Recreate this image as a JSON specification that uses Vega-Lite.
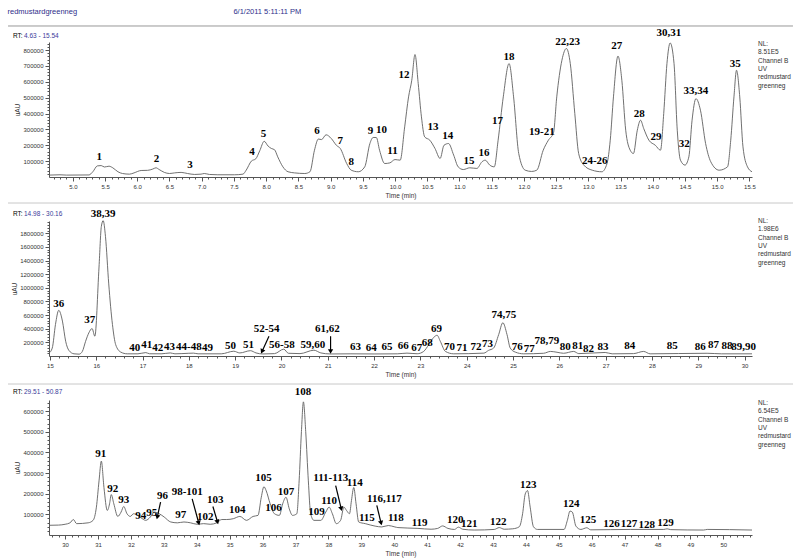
{
"$schema": "https://vega.github.io/schema/vega-lite/v6.json",
"background": "white",
"padding": {"left": 7, "top": 7, "right": 5, "bottom": 5},
"title": {"text": "redmustardgreenneg\u00a0\u00a0\u00a0\u00a0\u00a0\u00a0\u00a0\u00a0\u00a0\u00a0\u00a0\u00a0\u00a0\u00a0\u00a0\u00a0\u00a0\u00a0\u00a0\u00a0\u00a0\u00a0\u00a0\u00a0\u00a0\u00a0\u00a0\u00a0\u00a0\u00a0\u00a0\u00a0\u00a0\u00a0\u00a0\u00a0\u00a0\u00a0\u00a0\u00a0\u00a0\u00a0\u00a0\u00a0\u00a0\u00a0\u00a0\u00a0\u00a0\u00a0\u00a0\u00a0\u00a0\u00a0\u00a0\u00a0\u00a0\u00a0\u00a0\u00a0\u00a0\u00a0\u00a0\u00a0\u00a0\u00a0\u00a0\u00a0\u00a0\u00a0\u00a0\u00a0\u00a0\u00a0\u00a06/1/2011 5:11:11 PM", "anchor": "start", "frame": "bounds", "fontSize": 7.5, "font": "Liberation Sans", "fontWeight": "normal", "color": "#2e2e8a", "offset": 10},
"bounds": "flush",
"spacing": 44,
"datasets": {
"p1": [
{"t":4.63,"v":12000},{"t":4.8,"v":14000},{"t":4.9,"v":12000},{"t":5.25,"v":13000},{"t":5.31,"v":33000},{"t":5.38,"v":70000},{"t":5.44,"v":72000},{"t":5.49,"v":63000},{"t":5.56,"v":68000},{"t":5.62,"v":58000},{"t":5.7,"v":33000},{"t":5.77,"v":22000},{"t":5.88,"v":18000},{"t":5.95,"v":26000},{"t":6.06,"v":41000},{"t":6.16,"v":42000},{"t":6.24,"v":50000},{"t":6.29,"v":58000},{"t":6.34,"v":47000},{"t":6.42,"v":29000},{"t":6.5,"v":22000},{"t":6.58,"v":26000},{"t":6.68,"v":29000},{"t":6.78,"v":22000},{"t":6.89,"v":16000},{"t":6.99,"v":18000},{"t":7.04,"v":22000},{"t":7.12,"v":16000},{"t":7.25,"v":14000},{"t":7.51,"v":14000},{"t":7.64,"v":18000},{"t":7.69,"v":43000},{"t":7.77,"v":100000},{"t":7.84,"v":115000},{"t":7.9,"v":165000},{"t":7.97,"v":225000},{"t":8.03,"v":195000},{"t":8.08,"v":180000},{"t":8.13,"v":172000},{"t":8.18,"v":127000},{"t":8.26,"v":64000},{"t":8.34,"v":33000},{"t":8.44,"v":26000},{"t":8.6,"v":22000},{"t":8.68,"v":33000},{"t":8.75,"v":169000},{"t":8.81,"v":239000},{"t":8.86,"v":236000},{"t":8.93,"v":266000},{"t":9.01,"v":243000},{"t":9.09,"v":200000},{"t":9.15,"v":180000},{"t":9.25,"v":85000},{"t":9.32,"v":43000},{"t":9.43,"v":33000},{"t":9.53,"v":64000},{"t":9.61,"v":211000},{"t":9.66,"v":249000},{"t":9.71,"v":249000},{"t":9.76,"v":169000},{"t":9.84,"v":85000},{"t":9.92,"v":89000},{"t":10.0,"v":110000},{"t":10.08,"v":106000},{"t":10.15,"v":316000},{"t":10.21,"v":505000},{"t":10.26,"v":610000},{"t":10.31,"v":772000},{"t":10.36,"v":589000},{"t":10.41,"v":379000},{"t":10.46,"v":253000},{"t":10.54,"v":232000},{"t":10.62,"v":180000},{"t":10.7,"v":117000},{"t":10.76,"v":200000},{"t":10.83,"v":211000},{"t":10.91,"v":138000},{"t":10.98,"v":64000},{"t":11.06,"v":47000},{"t":11.16,"v":58000},{"t":11.27,"v":54000},{"t":11.35,"v":96000},{"t":11.4,"v":106000},{"t":11.47,"v":75000},{"t":11.54,"v":64000},{"t":11.6,"v":232000},{"t":11.68,"v":505000},{"t":11.77,"v":715000},{"t":11.84,"v":505000},{"t":11.92,"v":148000},{"t":12.02,"v":43000},{"t":12.12,"v":35000},{"t":12.2,"v":43000},{"t":12.3,"v":169000},{"t":12.38,"v":232000},{"t":12.46,"v":280000},{"t":12.51,"v":505000},{"t":12.59,"v":736000},{"t":12.66,"v":810000},{"t":12.72,"v":715000},{"t":12.79,"v":400000},{"t":12.85,"v":148000},{"t":12.93,"v":75000},{"t":13.06,"v":43000},{"t":13.21,"v":33000},{"t":13.29,"v":85000},{"t":13.34,"v":232000},{"t":13.39,"v":505000},{"t":13.46,"v":762000},{"t":13.52,"v":610000},{"t":13.58,"v":295000},{"t":13.65,"v":169000},{"t":13.7,"v":148000},{"t":13.76,"v":295000},{"t":13.81,"v":358000},{"t":13.86,"v":305000},{"t":13.94,"v":232000},{"t":14.04,"v":200000},{"t":14.12,"v":169000},{"t":14.17,"v":400000},{"t":14.22,"v":715000},{"t":14.27,"v":845000},{"t":14.33,"v":715000},{"t":14.38,"v":295000},{"t":14.43,"v":106000},{"t":14.5,"v":75000},{"t":14.56,"v":127000},{"t":14.61,"v":358000},{"t":14.67,"v":494000},{"t":14.74,"v":421000},{"t":14.82,"v":211000},{"t":14.9,"v":96000},{"t":15.03,"v":43000},{"t":15.16,"v":64000},{"t":15.21,"v":232000},{"t":15.26,"v":505000},{"t":15.3,"v":673000},{"t":15.35,"v":505000},{"t":15.4,"v":190000},{"t":15.47,"v":64000},{"t":15.54,"v":33000}
],
"p2": [
{"t":14.98,"v":42000},{"t":15.05,"v":116000},{"t":15.12,"v":463000},{"t":15.19,"v":670000},{"t":15.27,"v":512000},{"t":15.34,"v":215000},{"t":15.41,"v":82000},{"t":15.52,"v":32000},{"t":15.63,"v":27000},{"t":15.7,"v":67000},{"t":15.77,"v":215000},{"t":15.84,"v":339000},{"t":15.91,"v":403000},{"t":15.97,"v":290000},{"t":16.06,"v":1305000},{"t":16.11,"v":1899000},{"t":16.15,"v":1985000},{"t":16.2,"v":1750000},{"t":16.27,"v":1057000},{"t":16.35,"v":463000},{"t":16.42,"v":166000},{"t":16.53,"v":57000},{"t":16.67,"v":32000},{"t":16.9,"v":32000},{"t":17.07,"v":50000},{"t":17.15,"v":33000},{"t":17.4,"v":32000},{"t":17.6,"v":45000},{"t":17.7,"v":32000},{"t":18.0,"v":40000},{"t":18.1,"v":42000},{"t":18.2,"v":32000},{"t":18.7,"v":32000},{"t":18.97,"v":70000},{"t":19.1,"v":45000},{"t":19.33,"v":78000},{"t":19.45,"v":45000},{"t":19.6,"v":30000},{"t":19.85,"v":35000},{"t":20.05,"v":100000},{"t":20.15,"v":40000},{"t":20.4,"v":35000},{"t":20.7,"v":85000},{"t":20.85,"v":45000},{"t":21.05,"v":30000},{"t":21.5,"v":32000},{"t":22.0,"v":30000},{"t":22.5,"v":32000},{"t":22.71,"v":42000},{"t":22.93,"v":33000},{"t":23.07,"v":67000},{"t":23.18,"v":166000},{"t":23.29,"v":275000},{"t":23.36,"v":304000},{"t":23.43,"v":215000},{"t":23.54,"v":67000},{"t":23.72,"v":32000},{"t":24.37,"v":42000},{"t":24.47,"v":82000},{"t":24.58,"v":116000},{"t":24.69,"v":314000},{"t":24.78,"v":488000},{"t":24.87,"v":314000},{"t":24.94,"v":116000},{"t":25.05,"v":57000},{"t":25.23,"v":32000},{"t":25.66,"v":40000},{"t":25.81,"v":67000},{"t":25.95,"v":55000},{"t":26.09,"v":40000},{"t":26.31,"v":67000},{"t":26.42,"v":35000},{"t":26.99,"v":52000},{"t":27.14,"v":32000},{"t":27.6,"v":35000},{"t":27.82,"v":67000},{"t":27.96,"v":32000},{"t":29.19,"v":40000},{"t":29.5,"v":32000},{"t":30.16,"v":32000}
],
"p3": [
{"t":29.51,"v":47000},{"t":29.8,"v":48000},{"t":30.0,"v":52000},{"t":30.15,"v":59000},{"t":30.25,"v":75000},{"t":30.35,"v":55000},{"t":30.7,"v":59000},{"t":30.85,"v":71000},{"t":30.95,"v":135000},{"t":31.03,"v":262000},{"t":31.1,"v":358000},{"t":31.18,"v":230000},{"t":31.28,"v":119000},{"t":31.35,"v":151000},{"t":31.4,"v":196000},{"t":31.48,"v":151000},{"t":31.6,"v":90000},{"t":31.7,"v":111000},{"t":31.78,"v":138000},{"t":31.88,"v":103000},{"t":31.98,"v":90000},{"t":32.08,"v":103000},{"t":32.2,"v":95000},{"t":32.3,"v":84000},{"t":32.45,"v":71000},{"t":32.59,"v":87000},{"t":32.71,"v":111000},{"t":32.86,"v":103000},{"t":33.01,"v":87000},{"t":33.21,"v":63000},{"t":33.41,"v":59000},{"t":33.61,"v":63000},{"t":33.81,"v":59000},{"t":34.01,"v":52000},{"t":34.21,"v":55000},{"t":34.41,"v":52000},{"t":34.61,"v":59000},{"t":34.76,"v":75000},{"t":34.91,"v":75000},{"t":35.11,"v":79000},{"t":35.31,"v":90000},{"t":35.51,"v":71000},{"t":35.71,"v":90000},{"t":35.86,"v":95000},{"t":35.96,"v":183000},{"t":36.04,"v":234000},{"t":36.11,"v":214000},{"t":36.23,"v":151000},{"t":36.36,"v":103000},{"t":36.51,"v":95000},{"t":36.61,"v":151000},{"t":36.71,"v":183000},{"t":36.81,"v":127000},{"t":36.91,"v":95000},{"t":37.04,"v":103000},{"t":37.11,"v":262000},{"t":37.18,"v":501000},{"t":37.24,"v":645000},{"t":37.31,"v":501000},{"t":37.39,"v":262000},{"t":37.46,"v":103000},{"t":37.56,"v":71000},{"t":37.77,"v":71000},{"t":37.92,"v":111000},{"t":38.02,"v":135000},{"t":38.12,"v":103000},{"t":38.24,"v":55000},{"t":38.37,"v":71000},{"t":38.47,"v":135000},{"t":38.55,"v":119000},{"t":38.64,"v":103000},{"t":38.7,"v":167000},{"t":38.77,"v":230000},{"t":38.84,"v":151000},{"t":38.92,"v":63000},{"t":39.12,"v":55000},{"t":39.42,"v":43000},{"t":39.62,"v":39000},{"t":39.82,"v":46000},{"t":40.02,"v":39000},{"t":40.11,"v":36000},{"t":40.72,"v":32000},{"t":41.12,"v":28000},{"t":41.32,"v":32000},{"t":41.47,"v":44000},{"t":41.63,"v":32000},{"t":41.83,"v":27000},{"t":41.95,"v":38000},{"t":42.08,"v":28000},{"t":42.43,"v":24000},{"t":43.04,"v":27000},{"t":43.19,"v":36000},{"t":43.34,"v":28000},{"t":43.6,"v":30000},{"t":43.8,"v":40000},{"t":43.9,"v":103000},{"t":43.98,"v":199000},{"t":44.05,"v":215000},{"t":44.13,"v":135000},{"t":44.23,"v":40000},{"t":44.35,"v":27000},{"t":45.16,"v":27000},{"t":45.26,"v":71000},{"t":45.34,"v":116000},{"t":45.41,"v":111000},{"t":45.52,"v":43000},{"t":45.67,"v":27000},{"t":45.85,"v":35000},{"t":45.97,"v":25000},{"t":47.18,"v":27000},{"t":48.19,"v":27000},{"t":48.29,"v":30000},{"t":48.4,"v":26000},{"t":49.4,"v":24000},{"t":49.51,"v":27000},{"t":50.87,"v":24000}
],
"l1": [
{"t":5.41,"v":127000,"label":"1"},{"t":6.3,"v":111000,"label":"2"},{"t":6.82,"v":75000,"label":"3"},{"t":7.78,"v":155000,"label":"4"},{"t":7.96,"v":270000,"label":"5"},{"t":8.79,"v":291000,"label":"6"},{"t":9.15,"v":226000,"label":"7"},{"t":9.32,"v":92000,"label":"8"},{"t":9.62,"v":291000,"label":"9"},{"t":9.79,"v":295000,"label":"10"},{"t":9.96,"v":165000,"label":"11"},{"t":10.14,"v":642000,"label":"12"},{"t":10.59,"v":313000,"label":"13"},{"t":10.82,"v":258000,"label":"14"},{"t":11.15,"v":100000,"label":"15"},{"t":11.38,"v":149000,"label":"16"},{"t":11.59,"v":352000,"label":"17"},{"t":11.77,"v":758000,"label":"18"},{"t":12.28,"v":285000,"label":"19-21"},{"t":12.68,"v":852000,"label":"22,23"},{"t":13.1,"v":102000,"label":"24-26"},{"t":13.44,"v":825000,"label":"27"},{"t":13.79,"v":395000,"label":"28"},{"t":14.05,"v":253000,"label":"29"},{"t":14.25,"v":909000,"label":"30,31"},{"t":14.49,"v":205000,"label":"32"},{"t":14.67,"v":541000,"label":"33,34"},{"t":15.28,"v":710000,"label":"35"}
],
"l2": [
{"t":15.19,"v":760000,"label":"36"},{"t":15.86,"v":522000,"label":"37"},{"t":16.15,"v":2087000,"label":"38,39"},{"t":16.83,"v":116000,"label":"40"},{"t":17.09,"v":156000,"label":"41"},{"t":17.33,"v":116000,"label":"42"},{"t":17.58,"v":131000,"label":"43"},{"t":18.0,"v":131000,"label":"44-48"},{"t":18.4,"v":116000,"label":"49"},{"t":18.9,"v":151000,"label":"50"},{"t":19.29,"v":166000,"label":"51"},{"t":19.68,"v":389000,"label":"52-54"},{"t":20.01,"v":156000,"label":"56-58"},{"t":20.68,"v":156000,"label":"59,60"},{"t":20.99,"v":389000,"label":"61,62"},{"t":21.6,"v":131000,"label":"63"},{"t":21.94,"v":116000,"label":"64"},{"t":22.28,"v":126000,"label":"65"},{"t":22.63,"v":151000,"label":"66"},{"t":22.92,"v":116000,"label":"67"},{"t":23.15,"v":196000,"label":"68"},{"t":23.35,"v":389000,"label":"69"},{"t":23.63,"v":131000,"label":"70"},{"t":23.9,"v":116000,"label":"71"},{"t":24.2,"v":131000,"label":"72"},{"t":24.45,"v":176000,"label":"73"},{"t":24.8,"v":601000,"label":"74,75"},{"t":25.09,"v":136000,"label":"76"},{"t":25.35,"v":106000,"label":"77"},{"t":25.73,"v":215000,"label":"78,79"},{"t":26.13,"v":126000,"label":"80"},{"t":26.4,"v":151000,"label":"81"},{"t":26.63,"v":106000,"label":"82"},{"t":26.94,"v":131000,"label":"83"},{"t":27.52,"v":151000,"label":"84"},{"t":28.44,"v":141000,"label":"85"},{"t":29.04,"v":126000,"label":"86"},{"t":29.33,"v":156000,"label":"87"},{"t":29.62,"v":151000,"label":"88"},{"t":29.98,"v":131000,"label":"89,90"}
],
"l3": [
{"t":31.08,"v":390000,"label":"91"},{"t":31.45,"v":223000,"label":"92"},{"t":31.78,"v":170000,"label":"93"},{"t":32.3,"v":90000,"label":"94"},{"t":32.63,"v":106000,"label":"95"},{"t":32.96,"v":191000,"label":"96"},{"t":33.51,"v":95000,"label":"97"},{"t":33.71,"v":207000,"label":"98-101"},{"t":34.26,"v":87000,"label":"102"},{"t":34.56,"v":170000,"label":"103"},{"t":35.23,"v":122000,"label":"104"},{"t":36.03,"v":275000,"label":"105"},{"t":36.33,"v":130000,"label":"106"},{"t":36.71,"v":207000,"label":"107"},{"t":37.23,"v":692000,"label":"108"},{"t":37.64,"v":111000,"label":"109"},{"t":38.02,"v":164000,"label":"110"},{"t":38.07,"v":275000,"label":"111-113"},{"t":38.8,"v":254000,"label":"114"},{"t":39.17,"v":84000,"label":"115"},{"t":39.7,"v":175000,"label":"116,117"},{"t":40.05,"v":84000,"label":"118"},{"t":40.77,"v":58000,"label":"119"},{"t":41.85,"v":71000,"label":"120"},{"t":42.28,"v":52000,"label":"121"},{"t":43.16,"v":63000,"label":"122"},{"t":44.07,"v":243000,"label":"123"},{"t":45.38,"v":151000,"label":"124"},{"t":45.89,"v":71000,"label":"125"},{"t":46.6,"v":55000,"label":"126"},{"t":47.13,"v":51000,"label":"127"},{"t":47.67,"v":47000,"label":"128"},{"t":48.24,"v":58000,"label":"129"}
],
"a2": [
{"t":19.73,"v":290000,"t2":19.58,"v2":67000},{"t":21.06,"v":290000,"t2":21.06,"v2":67000}
],
"a3": [
{"t":32.9,"v":159000,"t2":32.8,"v2":87000},{"t":33.86,"v":175000,"t2":34.06,"v2":58000},{"t":34.49,"v":138000,"t2":34.63,"v2":63000},{"t":38.22,"v":239000,"t2":38.39,"v2":127000},{"t":39.47,"v":143000,"t2":39.6,"v2":58000}
]
},
"vconcat": [
{
"width": 703, "height": 135,
"layer": [
{"data": {"name": "p1"}, "mark": {"type": "line", "color": "#606060", "strokeWidth": 0.9, "interpolate": "monotone"},
 "encoding": {
  "x": {"field": "t", "type": "quantitative", "scale": {"domain": [4.63, 15.54], "nice": false, "zero": false},
   "axis": {"title": "Time (min)", "tickCount": 1000, "labelOverlap": false, "labelFlush": false, "values": [4.7,4.8,4.9,5,5.1,5.2,5.3,5.4,5.5,5.6,5.7,5.8,5.9,6,6.1,6.2,6.3,6.4,6.5,6.6,6.7,6.8,6.9,7,7.1,7.2,7.3,7.4,7.5,7.6,7.7,7.8,7.9,8,8.1,8.2,8.3,8.4,8.5,8.6,8.7,8.8,8.9,9,9.1,9.2,9.3,9.4,9.5,9.6,9.7,9.8,9.9,10,10.1,10.2,10.3,10.4,10.5,10.6,10.7,10.8,10.9,11,11.1,11.2,11.3,11.4,11.5,11.6,11.7,11.8,11.9,12,12.1,12.2,12.3,12.4,12.5,12.6,12.7,12.8,12.9,13,13.1,13.2,13.3,13.4,13.5,13.6,13.7,13.8,13.9,14,14.1,14.2,14.3,14.4,14.5,14.6,14.7,14.8,14.9,15,15.1,15.2,15.3,15.4,15.5],
    "labelExpr": "abs(datum.value*2-round(datum.value*2))<0.01 ? format(datum.value,'.1f') : ''",
    "tickSize": {"condition": {"test": "abs(datum.value*2-round(datum.value*2))<0.01", "value": 4}, "value": 2}}},
  "y": {"field": "v", "type": "quantitative", "scale": {"domain": [0, 851000], "nice": false},
   "axis": {"title": "uAU", "tickCount": 1000, "labelOverlap": false, "values": [20000,40000,60000,80000,100000,120000,140000,160000,180000,200000,220000,240000,260000,280000,300000,320000,340000,360000,380000,400000,420000,440000,460000,480000,500000,520000,540000,560000,580000,600000,620000,640000,660000,680000,700000,720000,740000,760000,780000,800000,820000,840000],
    "labelExpr": "abs(datum.value/100000-round(datum.value/100000))<0.001 ? format(datum.value,'d') : ''",
    "tickSize": {"condition": {"test": "abs(datum.value/100000-round(datum.value/100000))<0.001", "value": 4}, "value": 2}}}
 }},
{"data": {"name": "l1"}, "mark": {"type": "text", "font": "Liberation Serif", "fontWeight": "bold", "fontSize": 11, "color": "#000", "baseline": "middle"},
 "encoding": {"x": {"field": "t", "type": "quantitative"}, "y": {"field": "v", "type": "quantitative"}, "text": {"field": "label"}}},
{"data": {"values": [{}]}, "mark": {"type": "rule", "color": "#999999", "strokeWidth": 1}, "encoding": {"x": {"datum": 3.994}, "x2": {"datum": 16.176}, "y": {"datum": 951900}}},
{"data": {"values": [{}]}, "mark": {"type": "text", "text": "RT:", "align": "left", "baseline": "middle", "dx": -36, "dy": -6, "fontSize": 6.5, "font": "Liberation Sans", "color": "#000"}, "encoding": {"x": {"datum": 4.63}, "y": {"datum": 851000}}},
{"data": {"values": [{}]}, "mark": {"type": "text", "text": "4.63 - 15.54", "align": "left", "baseline": "middle", "dx": -25, "dy": -6, "fontSize": 6.5, "font": "Liberation Sans", "color": "#3b3b9b"}, "encoding": {"x": {"datum": 4.63}, "y": {"datum": 851000}}},
{"data": {"values": [{}]}, "mark": {"type": "text", "text": ["NL:", "8.51E5", "Channel B", "UV", "redmustard", "greenneg"], "align": "left", "baseline": "top", "dx": 6, "dy": -1, "fontSize": 6.5, "lineHeight": 8.3, "font": "Liberation Sans", "color": "#333"}, "encoding": {"x": {"datum": 15.54}, "y": {"datum": 851000}}}
]
},
{
"width": 703, "height": 135,
"layer": [
{"data": {"name": "p2"}, "mark": {"type": "line", "color": "#606060", "strokeWidth": 0.9, "interpolate": "monotone"},
 "encoding": {
  "x": {"field": "t", "type": "quantitative", "scale": {"domain": [14.98, 30.16], "nice": false, "zero": false},
   "axis": {"title": "Time (min)", "tickCount": 1000, "labelOverlap": false, "labelFlush": false, "values": [15,15.2,15.4,15.6,15.8,16,16.2,16.4,16.6,16.8,17,17.2,17.4,17.6,17.8,18,18.2,18.4,18.6,18.8,19,19.2,19.4,19.6,19.8,20,20.2,20.4,20.6,20.8,21,21.2,21.4,21.6,21.8,22,22.2,22.4,22.6,22.8,23,23.2,23.4,23.6,23.8,24,24.2,24.4,24.6,24.8,25,25.2,25.4,25.6,25.8,26,26.2,26.4,26.6,26.8,27,27.2,27.4,27.6,27.8,28,28.2,28.4,28.6,28.8,29,29.2,29.4,29.6,29.8,30],
    "labelExpr": "abs(datum.value-round(datum.value))<0.01 ? format(datum.value,'d') : ''",
    "tickSize": {"condition": {"test": "abs(datum.value-round(datum.value))<0.01", "value": 4}, "value": 2}}},
  "y": {"field": "v", "type": "quantitative", "scale": {"domain": [0, 1980000], "nice": false},
   "axis": {"title": "uAU", "tickCount": 1000, "labelOverlap": false, "values": [40000,80000,120000,160000,200000,240000,280000,320000,360000,400000,440000,480000,520000,560000,600000,640000,680000,720000,760000,800000,840000,880000,920000,960000,1000000,1040000,1080000,1120000,1160000,1200000,1240000,1280000,1320000,1360000,1400000,1440000,1480000,1520000,1560000,1600000,1640000,1680000,1720000,1760000,1800000,1840000,1880000,1920000,1960000],
    "labelExpr": "abs(datum.value/200000-round(datum.value/200000))<0.001 ? format(datum.value,'d') : ''",
    "tickSize": {"condition": {"test": "abs(datum.value/200000-round(datum.value/200000))<0.001", "value": 4}, "value": 2}}}
 }},
{"data": {"name": "l2"}, "mark": {"type": "text", "font": "Liberation Serif", "fontWeight": "bold", "fontSize": 11, "color": "#000", "baseline": "middle"},
 "encoding": {"x": {"field": "t", "type": "quantitative"}, "y": {"field": "v", "type": "quantitative"}, "text": {"field": "label"}}},
{"data": {"name": "a2"}, "mark": {"type": "rule", "color": "#000", "strokeWidth": 1.2},
 "encoding": {"x": {"field": "t", "type": "quantitative"}, "y": {"field": "v", "type": "quantitative"}, "x2": {"field": "t2"}, "y2": {"field": "v2"}}},
{"data": {"name": "a2"}, "transform": [{"calculate": "atan2(-(datum.t2-datum.t)*46.31, (datum.v-datum.v2)*135/1980000)*180/PI", "as": "ang"}],
 "mark": {"type": "point", "shape": "triangle-down", "filled": true, "color": "#000", "opacity": 1, "size": 28},
 "encoding": {"x": {"field": "t2", "type": "quantitative"}, "y": {"field": "v2", "type": "quantitative"}, "angle": {"field": "ang", "type": "quantitative", "scale": null}}},
{"data": {"values": [{}]}, "mark": {"type": "rule", "color": "#c8c8c8", "strokeWidth": 1}, "encoding": {"x": {"datum": 14.095}, "x2": {"datum": 31.045}, "y": {"datum": 2244000}}},
{"data": {"values": [{}]}, "mark": {"type": "text", "text": "RT:", "align": "left", "baseline": "middle", "dx": -36, "dy": -7, "fontSize": 6.5, "font": "Liberation Sans", "color": "#000"}, "encoding": {"x": {"datum": 14.98}, "y": {"datum": 1980000}}},
{"data": {"values": [{}]}, "mark": {"type": "text", "text": "14.98 - 30.16", "align": "left", "baseline": "middle", "dx": -25, "dy": -7, "fontSize": 6.5, "font": "Liberation Sans", "color": "#3b3b9b"}, "encoding": {"x": {"datum": 14.98}, "y": {"datum": 1980000}}},
{"data": {"values": [{}]}, "mark": {"type": "text", "text": ["NL:", "1.98E6", "Channel B", "UV", "redmustard", "greenneg"], "align": "left", "baseline": "top", "dx": 6, "dy": -3, "fontSize": 6.5, "lineHeight": 8.3, "font": "Liberation Sans", "color": "#333"}, "encoding": {"x": {"datum": 30.16}, "y": {"datum": 1980000}}}
]
},
{
"width": 703, "height": 135,
"layer": [
{"data": {"name": "p3"}, "mark": {"type": "line", "color": "#606060", "strokeWidth": 0.9, "interpolate": "monotone"},
 "encoding": {
  "x": {"field": "t", "type": "quantitative", "scale": {"domain": [29.51, 50.87], "nice": false, "zero": false},
   "axis": {"title": "Time (min)", "tickCount": 1000, "labelOverlap": false, "labelFlush": false, "values": [29.6,29.8,30,30.2,30.4,30.6,30.8,31,31.2,31.4,31.6,31.8,32,32.2,32.4,32.6,32.8,33,33.2,33.4,33.6,33.8,34,34.2,34.4,34.6,34.8,35,35.2,35.4,35.6,35.8,36,36.2,36.4,36.6,36.8,37,37.2,37.4,37.6,37.8,38,38.2,38.4,38.6,38.8,39,39.2,39.4,39.6,39.8,40,40.2,40.4,40.6,40.8,41,41.2,41.4,41.6,41.8,42,42.2,42.4,42.6,42.8,43,43.2,43.4,43.6,43.8,44,44.2,44.4,44.6,44.8,45,45.2,45.4,45.6,45.8,46,46.2,46.4,46.6,46.8,47,47.2,47.4,47.6,47.8,48,48.2,48.4,48.6,48.8,49,49.2,49.4,49.6,49.8,50,50.2,50.4,50.6,50.8],
    "labelExpr": "abs(datum.value-round(datum.value))<0.01 ? format(datum.value,'d') : ''",
    "tickSize": {"condition": {"test": "abs(datum.value-round(datum.value))<0.01", "value": 4}, "value": 2}}},
  "y": {"field": "v", "type": "quantitative", "scale": {"domain": [0, 654000], "nice": false},
   "axis": {"title": "uAU", "tickCount": 1000, "labelOverlap": false, "values": [20000,40000,60000,80000,100000,120000,140000,160000,180000,200000,220000,240000,260000,280000,300000,320000,340000,360000,380000,400000,420000,440000,460000,480000,500000,520000,540000,560000,580000,600000,620000,640000],
    "labelExpr": "abs(datum.value/100000-round(datum.value/100000))<0.001 ? format(datum.value,'d') : ''",
    "tickSize": {"condition": {"test": "abs(datum.value/100000-round(datum.value/100000))<0.001", "value": 4}, "value": 2}}}
 }},
{"data": {"name": "l3"}, "mark": {"type": "text", "font": "Liberation Serif", "fontWeight": "bold", "fontSize": 11, "color": "#000", "baseline": "middle"},
 "encoding": {"x": {"field": "t", "type": "quantitative"}, "y": {"field": "v", "type": "quantitative"}, "text": {"field": "label"}}},
{"data": {"name": "a3"}, "mark": {"type": "rule", "color": "#000", "strokeWidth": 1.2},
 "encoding": {"x": {"field": "t", "type": "quantitative"}, "y": {"field": "v", "type": "quantitative"}, "x2": {"field": "t2"}, "y2": {"field": "v2"}}},
{"data": {"name": "a3"}, "transform": [{"calculate": "atan2(-(datum.t2-datum.t)*32.91, (datum.v-datum.v2)*135/654000)*180/PI", "as": "ang"}],
 "mark": {"type": "point", "shape": "triangle-down", "filled": true, "color": "#000", "opacity": 1, "size": 28},
 "encoding": {"x": {"field": "t2", "type": "quantitative"}, "y": {"field": "v2", "type": "quantitative"}, "angle": {"field": "ang", "type": "quantitative", "scale": null}}},
{"data": {"values": [{}]}, "mark": {"type": "rule", "color": "#c8c8c8", "strokeWidth": 1}, "encoding": {"x": {"datum": 28.264}, "x2": {"datum": 52.117}, "y": {"datum": 731500}}},
{"data": {"values": [{}]}, "mark": {"type": "text", "text": "RT:", "align": "left", "baseline": "middle", "dx": -36, "dy": -8, "fontSize": 6.5, "font": "Liberation Sans", "color": "#000"}, "encoding": {"x": {"datum": 29.51}, "y": {"datum": 654000}}},
{"data": {"values": [{}]}, "mark": {"type": "text", "text": "29.51 - 50.87", "align": "left", "baseline": "middle", "dx": -25, "dy": -8, "fontSize": 6.5, "font": "Liberation Sans", "color": "#3b3b9b"}, "encoding": {"x": {"datum": 29.51}, "y": {"datum": 654000}}},
{"data": {"values": [{}]}, "mark": {"type": "text", "text": ["NL:", "6.54E5", "Channel B", "UV", "redmustard", "greenneg"], "align": "left", "baseline": "top", "dx": 6, "dy": 0, "fontSize": 6.5, "lineHeight": 8.3, "font": "Liberation Sans", "color": "#333"}, "encoding": {"x": {"datum": 50.87}, "y": {"datum": 654000}}}
]
}
],
"config": {
 "view": {"stroke": null},
 "axis": {"labelFont": "Liberation Sans", "labelFontSize": 6, "labelColor": "#333", "titleFont": "Liberation Sans", "titleFontSize": 6.5, "titleFontWeight": "normal", "titleColor": "#333", "tickColor": "#555", "domainColor": "#555", "grid": false, "labelOverlap": false, "labelFlush": false, "labelPadding": 2},
 "axisX": {"titlePadding": 3},
 "axisY": {"titlePadding": 2}
}
}
